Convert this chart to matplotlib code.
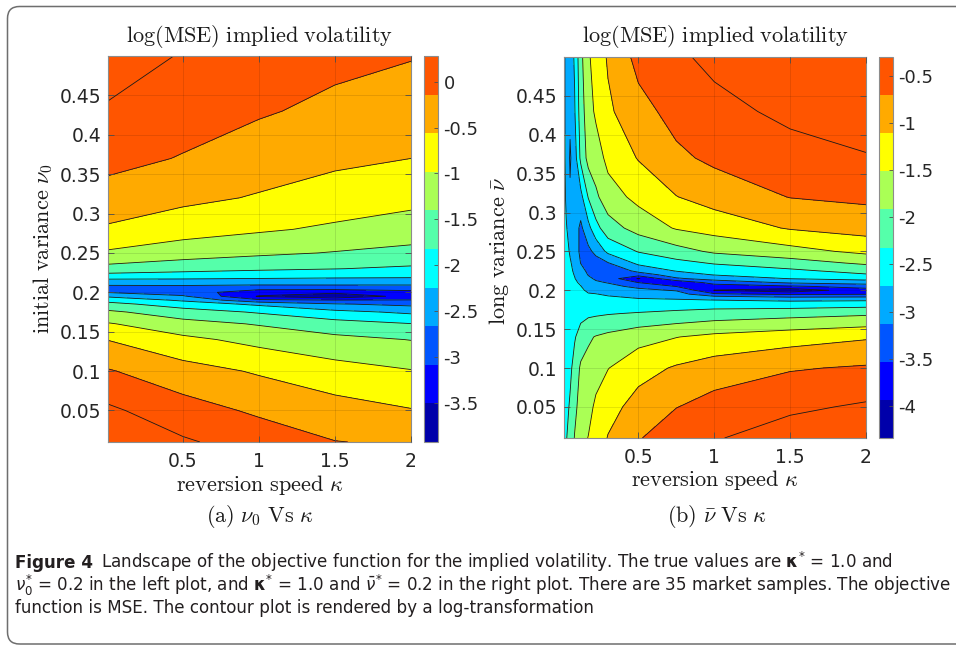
import numpy as np
import matplotlib
matplotlib.use('Agg')
import matplotlib.pyplot as plt
from matplotlib.colors import ListedColormap, Normalize
from matplotlib.cm import ScalarMappable
from matplotlib.patches import FancyBboxPatch
from matplotlib.transforms import IdentityTransform

plt.rcParams['mathtext.fontset'] = 'cm'
plt.rcParams['axes.unicode_minus'] = False

W, H = 956, 647

# MATLAB jet(10)
JET10 = ['#0000aa', '#0000ff', '#0055ff', '#00aaff', '#00ffff',
         '#55ffaa', '#aaff55', '#ffff00', '#ffaa00', '#ff5500']

# ---- panel (a): log(MSE) over (kappa, nu0), rows = NU_A, cols = KAPPA_A ----
KAPPA_A = [0.01, 0.5, 1.0, 1.5, 2.0]
NU_A = [0.01, 0.05, 0.10, 0.14, 0.16, 0.175, 0.185, 0.19, 0.195, 0.2, 0.205,
        0.21, 0.215, 0.22, 0.23, 0.25, 0.28, 0.32, 0.37, 0.43, 0.5]
Z_A = [
    [0.26, -0.05, -0.27, -0.48, -0.54],
    [-0.03, -0.33, -0.55, -0.72, -0.85],
    [-0.46, -0.72, -0.91, -1.10, -1.23],
    [-0.88, -1.16, -1.36, -1.52, -1.64],
    [-1.22, -1.49, -1.66, -1.87, -2.01],
    [-1.56, -1.84, -2.06, -2.30, -2.47],
    [-1.90, -2.21, -2.47, -2.75, -2.87],
    [-2.15, -2.45, -3.08, -3.14, -3.14],
    [-2.46, -2.73, -3.58, -3.85, -3.40],
    [-2.80, -3.00, -3.35, -3.45, -3.28],
    [-2.95, -2.92, -3.06, -3.03, -3.01],
    [-2.73, -2.73, -2.74, -2.74, -2.74],
    [-2.50, -2.50, -2.51, -2.53, -2.53],
    [-2.21, -2.25, -2.30, -2.33, -2.35],
    [-1.76, -1.87, -1.95, -2.01, -2.08],
    [-1.30, -1.45, -1.56, -1.65, -1.74],
    [-0.92, -1.09, -1.20, -1.31, -1.42],
    [-0.63, -0.78, -0.90, -1.04, -1.14],
    [-0.38, -0.51, -0.68, -0.79, -0.87],
    [-0.15, -0.33, -0.45, -0.58, -0.68],
    [0.12, -0.13, -0.27, -0.39, -0.47],
]
LEVELS_A = [-3.55, -3.16, -2.78, -2.40, -2.02, -1.63, -1.25, -0.87, -0.49, -0.10]
CLIM_A = (-3.93, 0.28)
CBAR_TICKS_A = [-3.5, -3, -2.5, -2, -1.5, -1, -0.5, 0]
CBAR_LABELS_A = ['-3.5', '-3', '-2.5', '-2', '-1.5', '-1', '-0.5', '0']

# ---- panel (b): log(MSE) over (kappa, nu_bar) ----
KAPPA_B = [0.01, 0.025, 0.05, 0.08, 0.12, 0.17, 0.22, 0.3, 0.5, 0.75, 1.0, 1.5, 2.0]
NU_B = [0.01, 0.05, 0.1, 0.14, 0.17, 0.185, 0.19, 0.195, 0.2, 0.205, 0.21,
        0.215, 0.22, 0.225, 0.235, 0.25, 0.28, 0.32, 0.37, 0.43, 0.5]
Z_B = [
    [-2.55, -2.53, -2.38, -2.12, -1.88, -1.76, -1.62, -1.38, -1.07, -0.79, -0.70, -0.48, -0.30],
    [-2.58, -2.60, -2.47, -2.24, -1.98, -1.89, -1.70, -1.54, -1.25, -1.05, -0.90, -0.74, -0.62],
    [-2.62, -2.66, -2.58, -2.39, -2.08, -2.03, -1.92, -1.78, -1.54, -1.36, -1.23, -1.07, -1.00],
    [-2.65, -2.70, -2.66, -2.54, -2.37, -2.19, -2.12, -2.05, -1.90, -1.78, -1.68, -1.56, -1.44],
    [-2.67, -2.73, -2.72, -2.66, -2.61, -2.58, -2.56, -2.53, -2.48, -2.41, -2.34, -2.27, -2.20],
    [-2.68, -2.74, -2.75, -2.73, -2.72, -2.74, -2.73, -2.75, -2.78, -2.78, -2.77, -2.81, -2.77],
    [-2.69, -2.75, -2.76, -2.75, -2.75, -2.79, -2.80, -2.82, -2.88, -2.91, -2.98, -3.12, -3.10],
    [-2.69, -2.75, -2.77, -2.77, -2.78, -2.85, -2.86, -2.91, -3.01, -3.08, -3.55, -3.67, -3.63],
    [-2.70, -2.76, -2.78, -2.79, -2.82, -2.92, -2.96, -3.03, -3.15, -3.27, -3.98, -4.20, -3.75],
    [-2.70, -2.76, -2.79, -2.81, -2.86, -3.01, -3.08, -3.14, -3.33, -3.62, -3.80, -3.66, -3.48],
    [-2.71, -2.77, -2.80, -2.83, -2.91, -3.09, -3.19, -3.26, -3.62, -3.92, -3.46, -3.18, -3.06],
    [-2.71, -2.77, -2.81, -2.86, -2.97, -3.17, -3.29, -3.40, -4.00, -3.29, -3.10, -2.86, -2.76],
    [-2.72, -2.78, -2.82, -2.88, -3.04, -3.26, -3.37, -3.55, -3.44, -3.05, -2.85, -2.72, -2.54],
    [-2.72, -2.78, -2.83, -2.90, -3.11, -3.32, -3.42, -3.58, -3.13, -2.85, -2.72, -2.58, -2.39],
    [-2.73, -2.79, -2.85, -2.93, -3.25, -3.40, -3.40, -3.26, -2.79, -2.62, -2.48, -2.30, -2.08],
    [-2.74, -2.81, -2.89, -2.98, -3.35, -3.33, -3.14, -2.78, -2.49, -2.28, -2.08, -1.90, -1.68],
    [-2.76, -2.85, -2.98, -3.05, -3.32, -2.98, -2.63, -2.30, -2.00, -1.74, -1.62, -1.37, -1.25],
    [-2.78, -2.92, -3.20, -3.10, -2.99, -2.49, -2.21, -1.93, -1.67, -1.41, -1.25, -1.03, -0.97],
    [-2.80, -2.95, -3.28, -3.05, -2.43, -2.02, -1.95, -1.67, -1.38, -1.11, -0.97, -0.82, -0.70],
    [-2.82, -2.94, -3.18, -2.90, -2.33, -1.92, -1.71, -1.46, -1.16, -0.92, -0.79, -0.58, -0.45],
    [-2.84, -2.92, -3.05, -2.83, -2.25, -1.82, -1.62, -1.36, -0.93, -0.74, -0.57, -0.34, -0.34],
]
LEVELS_B = [-3.97, -3.61, -3.24, -2.87, -2.51, -2.14, -1.77, -1.40, -1.04, -0.67]
CLIM_B = (-4.34, -0.30)
CBAR_TICKS_B = [-4, -3.5, -3, -2.5, -2, -1.5, -1, -0.5]
CBAR_LABELS_B = ['-4', '-3.5', '-3', '-2.5', '-2', '-1.5', '-1', '-0.5']

X_TICKS = [0.5, 1, 1.5, 2]
X_TICK_LABELS = ['0.5', '1', '1.5', '2']
Y_TICKS = [0.05, 0.1, 0.15, 0.2, 0.25, 0.3, 0.35, 0.4, 0.45]
Y_TICK_LABELS = ['0.05', '0.1', '0.15', '0.2', '0.25', '0.3', '0.35', '0.4', '0.45']

TITLE = r'$\mathrm{log(MSE)\ implied\ volatility}$'
XLABEL = r'$\mathrm{reversion\ speed}\ \kappa$'
YLABEL_A = r'$\mathrm{initial\ variance}\ \nu_0$'
YLABEL_B = r'$\mathrm{long\ variance}\ \bar{\nu}$'
SUB_A = r'$\mathrm{(a)}\ \nu_0\ \mathrm{Vs}\ \kappa$'
SUB_B = r'$\mathrm{(b)}\ \bar{\nu}\ \mathrm{Vs}\ \kappa$'

CAPTION_BOLD = 'Figure 4'
CAPTION_LINES = [
    r'Landscape of the objective function for the implied volatility. The true values are $\mathbf{\kappa}^{*}$ = 1.0 and',
    r'$\nu_0^{*}$ = 0.2 in the left plot, and $\mathbf{\kappa}^{*}$ = 1.0 and $\bar{\nu}^{*}$ = 0.2 in the right plot. There are 35 market samples. The objective',
    'function is MSE. The contour plot is rendered by a log-transformation',
]


def fx(x):
    return x / W


def fy(y):
    return (H - y) / H


def draw_panel(fig, ax, cax, kappa, nu, z, levels, clim, cticks, clabels):
    K, N = np.meshgrid(kappa, nu)
    Z = np.array(z)
    fill_levels = [clim[0] - 1] + levels + [clim[1] + 1]
    ax.contourf(K, N, Z, levels=fill_levels, colors=JET10 + [JET10[-1]])
    ax.contour(K, N, Z, levels=levels, colors='#1a1a1a', linewidths=0.6,
               linestyles='solid')

    ax.set_xlim(0.01, 2)
    ax.set_ylim(0.01, 0.5)
    ax.set_xticks(X_TICKS)
    ax.set_xticklabels(X_TICK_LABELS)
    ax.set_yticks(Y_TICKS)
    ax.set_yticklabels(Y_TICK_LABELS)
    ax.tick_params(direction='in', length=4, width=0.6, color='#4d4d4d',
                   top=True, right=True, labelsize=13.5, labelcolor='#262626')
    ax.tick_params(axis='x', pad=7)
    ax.tick_params(axis='y', pad=5)
    ax.grid(True, color='#000000', alpha=0.12, linewidth=0.6)
    ax.set_axisbelow(False)
    for sp in ax.spines.values():
        sp.set_color('#8c8c8c')
        sp.set_linewidth(0.8)

    sm = ScalarMappable(norm=Normalize(*clim), cmap=ListedColormap(JET10))
    cb = fig.colorbar(sm, cax=cax, ticks=cticks)
    cb.ax.set_yticklabels(clabels)
    cb.outline.set_edgecolor('#8c8c8c')
    cb.outline.set_linewidth(0.8)
    cax.tick_params(direction='in', length=3, width=0.6, color='#4d4d4d',
                    labelsize=13, labelcolor='#262626', pad=4)


def main():
    fig = plt.figure(figsize=(W / 100, H / 100), dpi=100)

    # journal frame
    frame = FancyBboxPatch((7.5, 3), 1000, H - 9.5,
                           boxstyle='round,pad=0,rounding_size=12',
                           transform=IdentityTransform(), facecolor='none',
                           edgecolor='#6e6e6e', linewidth=1.1)
    fig.add_artist(frame)

    ax_a = fig.add_axes([fx(108), fy(442), fx(411) - fx(108), fy(56) - fy(442)])
    cax_a = fig.add_axes([fx(424), fy(442), fx(438) - fx(424), fy(56) - fy(442)])
    ax_b = fig.add_axes([fx(564), fy(438), fx(866) - fx(564), fy(57) - fy(438)])
    cax_b = fig.add_axes([fx(879), fy(438), fx(893) - fx(879), fy(57) - fy(438)])

    draw_panel(fig, ax_a, cax_a, KAPPA_A, NU_A, Z_A, LEVELS_A, CLIM_A,
               CBAR_TICKS_A, CBAR_LABELS_A)
    draw_panel(fig, ax_b, cax_b, KAPPA_B, NU_B, Z_B, LEVELS_B, CLIM_B,
               CBAR_TICKS_B, CBAR_LABELS_B)

    # serif (LaTeX-like) texts
    tk = dict(fontsize=16, color='#1a1a1a', ha='center', va='center')
    fig.text(fx(259.5), fy(37), TITLE, **tk)
    fig.text(fx(715), fy(37), TITLE, **tk)
    fig.text(fx(259.5), fy(485), XLABEL, **tk)
    fig.text(fx(715), fy(480), XLABEL, **tk)
    fig.text(fx(43), fy(249), YLABEL_A, rotation=90, **tk)
    fig.text(fx(499), fy(251), YLABEL_B, rotation=90, **tk)
    fig.text(fx(259.5), fy(517), SUB_A, **tk)
    fig.text(fx(717), fy(516), SUB_B, **tk)

    # caption
    cap = dict(fontsize=12.1, color='#231f20', va='baseline',
               family='DejaVu Sans', math_fontfamily='dejavusans')
    t_bold = fig.text(fx(15), fy(568), CAPTION_BOLD, fontweight='bold', **cap)
    fig.canvas.draw()
    bb = t_bold.get_window_extent()
    fig.text((bb.x1 + 8) / W, fy(568), CAPTION_LINES[0], **cap)
    fig.text(fx(15), fy(591), CAPTION_LINES[1], **cap)
    fig.text(fx(15), fy(613), CAPTION_LINES[2], **cap)

    fig.savefig('out.png', dpi=100)


if __name__ == "__main__":
    main()
